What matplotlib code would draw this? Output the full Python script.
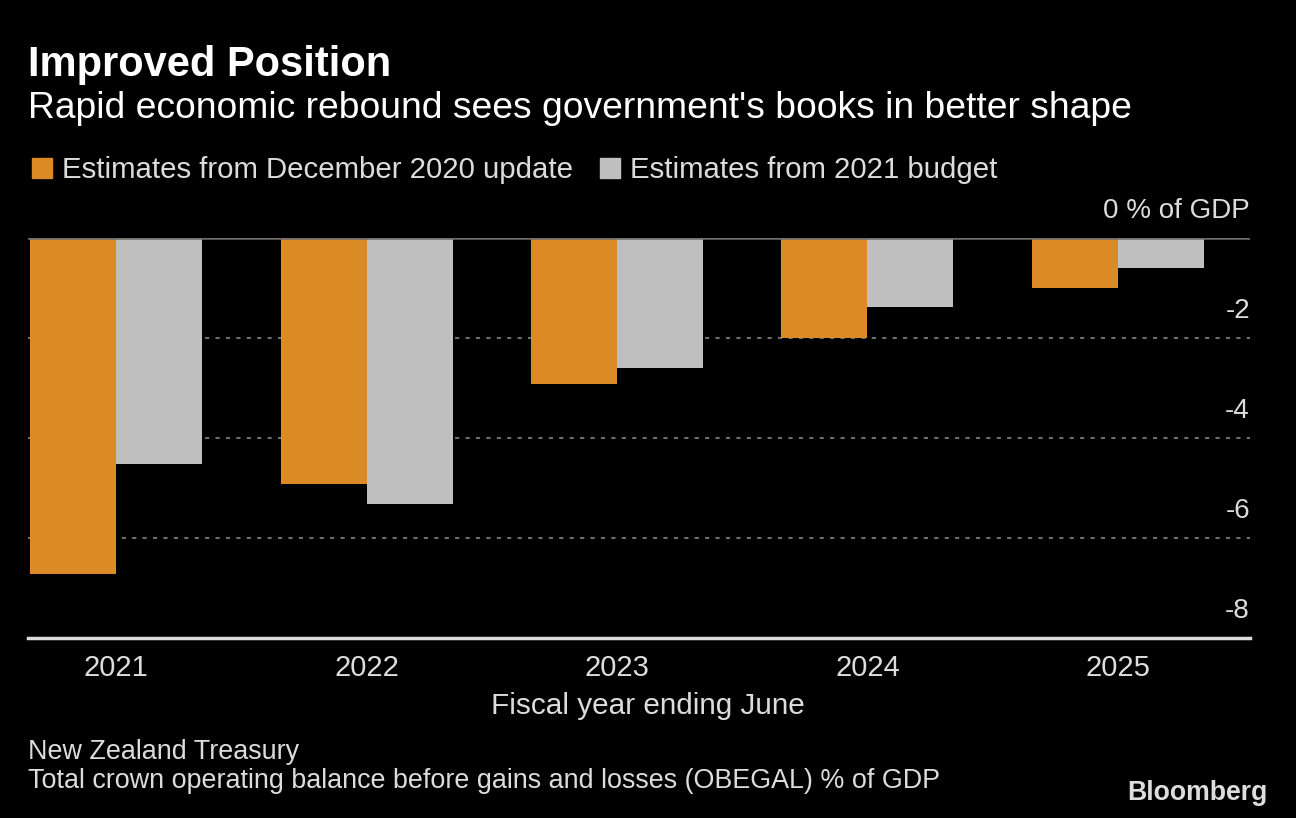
import matplotlib
matplotlib.use("Agg")
import matplotlib.pyplot as plt
import numpy as np
from matplotlib.patches import Rectangle

years = ["2021", "2022", "2023", "2024", "2025"]
dec_2020 = [-6.72, -4.92, -2.92, -2.0, -1.0]
budget_2021 = [-4.52, -5.32, -2.6, -1.38, -0.6]
yticks = [0, -2, -4, -6, -8]
ytick_labels = ["0 % of GDP", "-2", "-4", "-6", "-8"]

W, H = 1296, 818
FONT = "Liberation Sans"
TXT = "#dcdcdc"
ORANGE = "#db8a25"
GRAY = "#bfbfbf"

plt.rcParams["font.family"] = [FONT, "DejaVu Sans"]
fig = plt.figure(figsize=(W / 100, H / 100), dpi=100, facecolor="black")

def px(x, y):
    return x / W, 1 - y / H

# axes spans x 28..1250, y 238..638
ax = fig.add_axes([28 / W, 1 - 638 / H, (1250 - 28) / W, (638 - 238) / H], facecolor="black")
spacing = 250.5
x = np.arange(len(years))
bw = 86 / spacing
ax.bar(x - bw / 2, dec_2020, width=bw, color=ORANGE, zorder=3)
ax.bar(x + bw / 2, budget_2021, width=bw, color=GRAY, zorder=3)
ax.set_xlim((28 - 116) / spacing, (1250 - 116) / spacing)
ax.set_ylim(-8, 0)
for s in ax.spines.values():
    s.set_visible(False)
ax.tick_params(left=False, bottom=False, labelleft=False, labelbottom=False)
for v in yticks[1:-1]:
    ax.axhline(v, color="#6e6e6e", lw=1.5, ls=(0, (2, 3)), zorder=1)
ax.axhline(0, color="#6e6e6e", lw=1.8, zorder=4)
ax.axhline(-8, color="#dcdcdc", lw=2.5, zorder=4, clip_on=False)

# y tick labels above gridlines, right aligned
for v, lab in zip(yticks, ytick_labels):
    ax.annotate(lab, xy=(1, v), xycoords=("axes fraction", "data"),
                xytext=(0, 27), textcoords="offset pixels",
                ha="right", va="center", color=TXT, fontsize=20)
# x tick labels
for xi, lab in zip(x, years):
    ax.annotate(lab, xy=(xi, -8), xycoords="data", xytext=(0, -30),
                textcoords="offset pixels", ha="center", va="center",
                color=TXT, fontsize=21, annotation_clip=False)

fig.text(*px(28, 65), "Improved Position", color="white", fontsize=30,
         fontweight="bold", va="center", ha="left")
fig.text(*px(28, 108), "Rapid economic rebound sees government's books in better shape",
         color="white", fontsize=26.8, va="center", ha="left")

# legend
for (x0, tx, lab, col) in [(32, 62, "Estimates from December 2020 update", ORANGE),
                           (600, 630, "Estimates from 2021 budget", GRAY)]:
    fig.patches.append(Rectangle(px(x0, 178), 20 / W, 20 / H, transform=fig.transFigure,
                                 color=col, figure=fig))
    fig.text(*px(tx, 170), lab, color=TXT, fontsize=21.2, va="center", ha="left")

fig.text(*px(648, 706), "Fiscal year ending June", color=TXT, fontsize=21.4,
         va="center", ha="center")
fig.text(*px(28, 752), "New Zealand Treasury", color=TXT, fontsize=19.4, va="center", ha="left")
fig.text(*px(28, 781), "Total crown operating balance before gains and losses (OBEGAL) % of GDP",
         color=TXT, fontsize=19.4, va="center", ha="left")
fig.text(*px(1268, 793), "Bloomberg", color="#dddddd", fontsize=19.2, fontweight="bold",
         va="center", ha="right")

fig.savefig("out.png", dpi=100, facecolor="black")
